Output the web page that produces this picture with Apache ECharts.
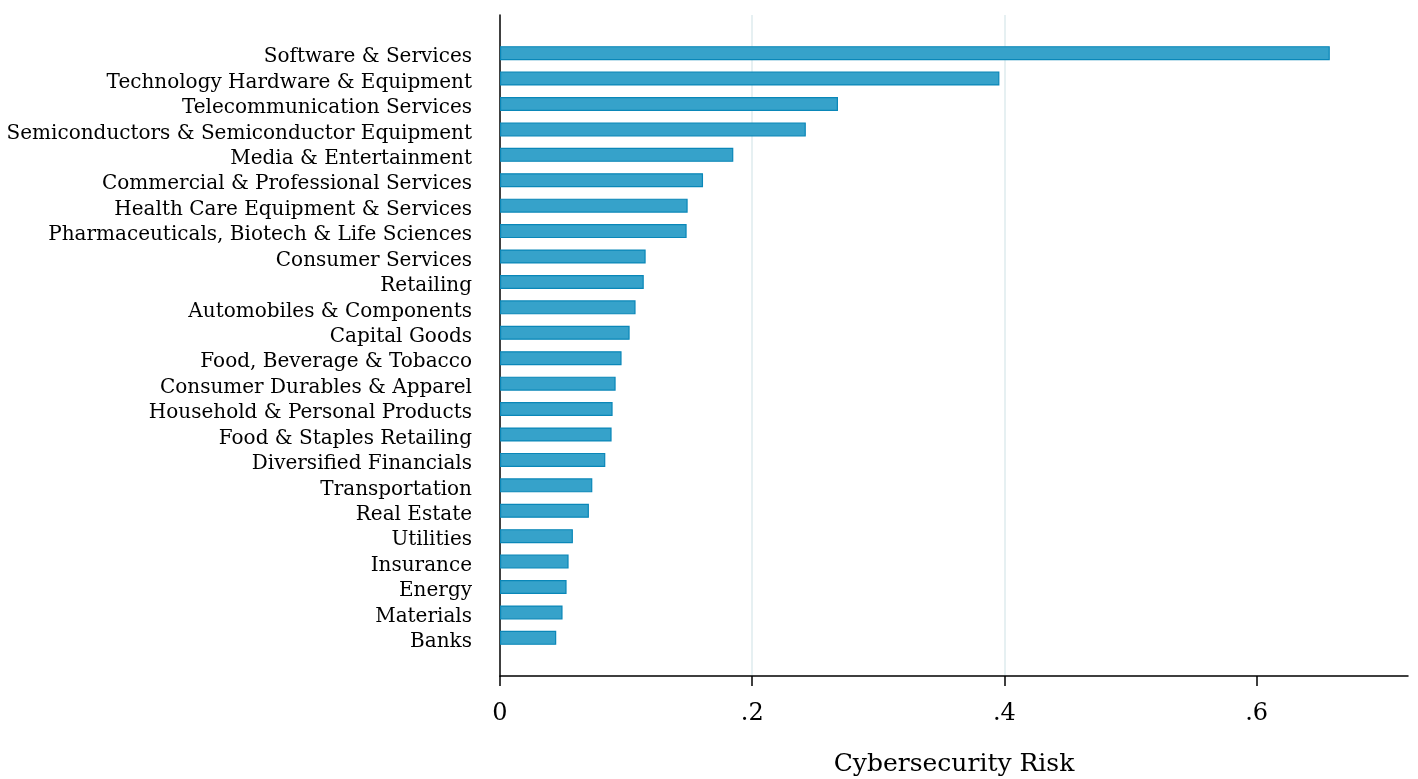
<!DOCTYPE html>
<html>
<head>
<meta charset="utf-8">
<script src="https://cdn.jsdelivr.net/npm/echarts@6/dist/echarts.min.js"></script>
<style>
  html, body { margin: 0; padding: 0; background: #fff; }
  #chart { width: 1418px; height: 779px; }
</style>
</head>
<body>
<div id="chart"></div>
<script>
// industries, top to bottom
const industries = [
  'Software & Services', 'Technology Hardware & Equipment', 'Telecommunication Services',
  'Semiconductors & Semiconductor Equipment', 'Media & Entertainment',
  'Commercial & Professional Services', 'Health Care Equipment & Services',
  'Pharmaceuticals, Biotech & Life Sciences', 'Consumer Services', 'Retailing',
  'Automobiles & Components', 'Capital Goods', 'Food, Beverage & Tobacco',
  'Consumer Durables & Apparel', 'Household & Personal Products', 'Food & Staples Retailing',
  'Diversified Financials', 'Transportation', 'Real Estate', 'Utilities', 'Insurance',
  'Energy', 'Materials', 'Banks'
];
const riskValues = [
  0.658, 0.396, 0.268, 0.2425, 0.185, 0.161, 0.1488, 0.148, 0.1155, 0.114,
  0.1075, 0.1028, 0.0964, 0.0917, 0.0893, 0.0885, 0.0835, 0.0732, 0.0705,
  0.0578, 0.0544, 0.0528, 0.0496, 0.0446
];
const xTicks = [0, 0.2, 0.4, 0.6];

const serif = 'DejaVu Serif';

// pad one empty slot above and below, like the original plot region
const cats = [' '].concat(industries, ['  ']);
const vals = [null].concat(riskValues, [null]);

let chart = echarts.init(document.getElementById('chart'));
chart.setOption({
  animation: false,
  grid: { left: 500, right: 10, top: 15, bottom: 103, containLabel: false, outerBoundsMode: 'none' },
  xAxis: {
    type: 'value',
    min: 0,
    max: 0.72,
    interval: 0.2,
    name: 'Cybersecurity Risk',
    nameLocation: 'middle',
    nameGap: 76,
    nameTextStyle: { fontFamily: serif, fontSize: 25, color: '#000' },
    axisLine: { show: true, lineStyle: { color: '#000', width: 1.5 } },
    axisTick: { show: true, length: 10, customValues: xTicks, lineStyle: { color: '#000', width: 1.5 } },
    axisLabel: {
      customValues: xTicks,
      margin: 26,
      fontFamily: serif, fontSize: 24, color: '#000',
      formatter: v => v === 0 ? '0' : String(+v.toFixed(1)).replace(/^0/, '')
    },
    splitLine: { show: true, showMinLine: false, showMaxLine: false, lineStyle: { color: '#e6f0f2', width: 2 } }
  },
  yAxis: {
    type: 'category',
    inverse: true,
    data: cats,
    axisLine: { show: true, lineStyle: { color: '#000', width: 1.5 } },
    axisTick: { show: false },
    axisLabel: {
      margin: 28, interval: 0,
      formatter: v => '{t|' + v + '}',
      rich: { t: { fontFamily: serif, fontSize: 20, color: '#000', padding: [8, 0, 0, 0] } }
    },
    splitLine: { show: false }
  },
  series: [{
    type: 'bar',
    data: vals,
    barWidth: 14,
    itemStyle: { color: '#36a2ca', borderColor: '#0a87b8', borderWidth: 1.2 }
  }]
});
</script>
</body>
</html>
